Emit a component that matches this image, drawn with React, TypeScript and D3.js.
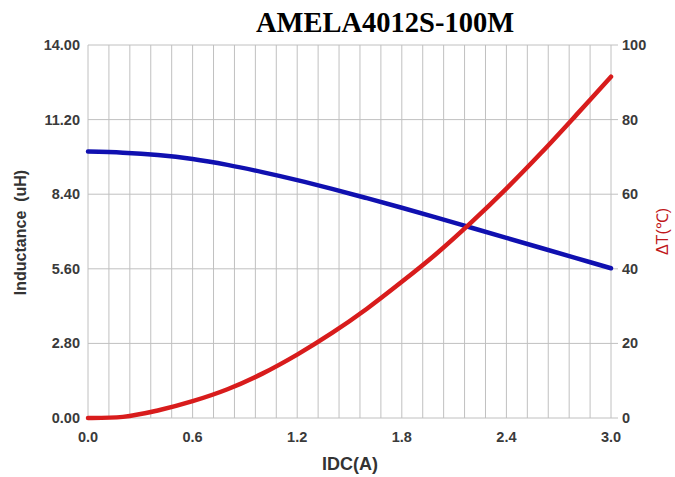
import React from "react";
import * as d3 from "d3";

const currentA = [0, 0.2, 0.4, 0.6, 0.8, 1.0, 1.2, 1.4, 1.6, 1.8, 2.0, 2.2, 2.4, 2.6, 2.8, 3.0];
const inductanceUH = [10.0, 9.96, 9.87, 9.72, 9.5, 9.23, 8.93, 8.6, 8.25, 7.89, 7.52, 7.14, 6.76, 6.38, 6.0, 5.62];
const deltaT = [0, 0.3, 2.0, 4.5, 7.7, 11.9, 17.0, 22.8, 29.3, 36.5, 44.1, 52.5, 61.5, 71.1, 81.2, 91.5];

const xTicks = [0, 0.6, 1.2, 1.8, 2.4, 3.0];
const leftTicks = [0, 2.8, 5.6, 8.4, 11.2, 14.0];
const rightTicks = [0, 20, 40, 60, 80, 100];
const xGridStep = 0.12;

const W = 675;
const H = 477;
const M = { left: 88, right: 611, top: 45, bottom: 418 };

export default function App() {
  const x = d3.scaleLinear().domain([0, 3]).range([M.left, M.right]);
  const yL = d3.scaleLinear().domain([0, 14]).range([M.bottom, M.top]);
  const yR = d3.scaleLinear().domain([0, 100]).range([M.bottom, M.top]);

  const gridX = d3.range(0, 25 + 1).map((i) => i * xGridStep);

  const lineL = d3
    .line<number>()
    .x((_, i) => x(currentA[i]))
    .y((d) => yL(d))
    .curve(d3.curveCatmullRom.alpha(0.5));
  const lineR = d3
    .line<number>()
    .x((_, i) => x(currentA[i]))
    .y((d) => yR(d))
    .curve(d3.curveCatmullRom.alpha(0.5));

  const tickFont = "Liberation Sans, Arial, sans-serif";

  return (
    <svg
      width={W}
      height={H}
      style={{ position: "absolute", left: 0, top: 0, background: "#fff" }}
    >
      <rect x={0} y={0} width={W} height={H} fill="#fff" />
      <text
        x={385}
        y={32}
        textAnchor="middle"
        fontFamily="Liberation Serif, Times New Roman, serif"
        fontWeight="bold"
        fontSize={28.5}
        fill="#000"
      >
        AMELA4012S-100M
      </text>

      {/* vertical grid */}
      {gridX.map((v, i) => (
        <line
          key={"gx" + i}
          x1={x(v)}
          x2={x(v)}
          y1={M.top}
          y2={M.bottom}
          stroke="#c0c0c0"
          strokeWidth={1}
        />
      ))}
      {/* horizontal grid */}
      {leftTicks.map((v, i) => (
        <line
          key={"gy" + i}
          x1={M.left}
          x2={M.right + 7}
          y1={yL(v)}
          y2={yL(v)}
          stroke="#c0c0c0"
          strokeWidth={1}
        />
      ))}

      {/* left tick labels */}
      {leftTicks.map((v, i) => (
        <text
          key={"lt" + i}
          x={M.left - 8}
          y={yL(v) + 5}
          textAnchor="end"
          fontFamily={tickFont}
          fontWeight="bold"
          fontSize={14.5}
          fill="#3a3a3a"
        >
          {v.toFixed(2)}
        </text>
      ))}
      {/* right tick labels */}
      {rightTicks.map((v, i) => (
        <text
          key={"rt" + i}
          x={M.right + 11}
          y={yR(v) + 5}
          textAnchor="start"
          fontFamily={tickFont}
          fontWeight="bold"
          fontSize={14.5}
          fill="#3a3a3a"
        >
          {v}
        </text>
      ))}
      {/* bottom tick labels */}
      {xTicks.map((v, i) => (
        <text
          key={"bt" + i}
          x={x(v)}
          y={M.bottom + 24}
          textAnchor="middle"
          fontFamily={tickFont}
          fontWeight="bold"
          fontSize={14.5}
          fill="#3a3a3a"
        >
          {v.toFixed(1)}
        </text>
      ))}

      {/* axis titles */}
      <text
        x={350}
        y={470}
        textAnchor="middle"
        fontFamily={tickFont}
        fontWeight="bold"
        fontSize={18}
        fill="#333"
      >
        IDC(A)
      </text>
      <text
        transform={`translate(26, ${(M.top + M.bottom) / 2 + 1}) rotate(-90)`}
        textAnchor="middle"
        fontFamily={tickFont}
        fontWeight="bold"
        fontSize={16}
        fill="#333"
        style={{ whiteSpace: "pre" }}
      >
        {"Inductance  (uH)"}
      </text>
      <text
        transform={`translate(668, ${(M.top + M.bottom) / 2}) rotate(-90)`}
        textAnchor="middle"
        fontFamily={tickFont}
        fontSize={16}
        fill="#c0181c"
      >
        ΔT(℃)
      </text>

      {/* curves */}
      <path
        d={lineL(inductanceUH) || ""}
        fill="none"
        stroke="#1010b0"
        strokeWidth={4.5}
        strokeLinecap="round"
      />
      <path
        d={lineR(deltaT) || ""}
        fill="none"
        stroke="#d81c1c"
        strokeWidth={4.5}
        strokeLinecap="round"
      />
    </svg>
  );
}
